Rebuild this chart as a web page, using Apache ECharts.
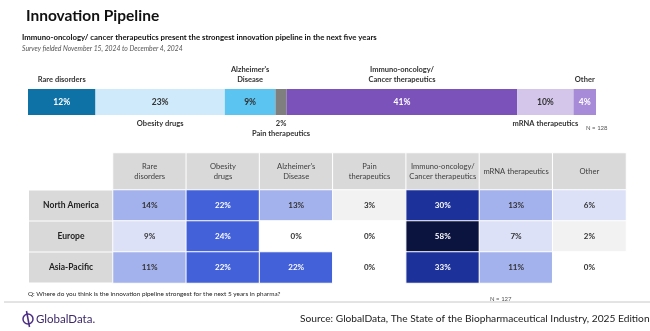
<!DOCTYPE html>
<html><head><meta charset="utf-8">
<script src="https://cdn.jsdelivr.net/npm/echarts@6/dist/echarts.min.js"></script>
<style>html,body{margin:0;padding:0;background:#fff}#c{width:650px;height:331px}</style>
</head><body><div id="c"></div>
<script>
// ---- data ----
var overallCategories = ['Rare disorders', 'Obesity drugs', "Alzheimer's\nDisease", 'Pain therapeutics', 'Immuno-oncology/\nCancer therapeutics', 'mRNA therapeutics', 'Other'];
var overallValues = [12, 23, 9, 2, 41, 10, 4];
var regions = ['North America', 'Europe', 'Asia-Pacific'];
var tableCategories = ['Rare\ndisorders', 'Obesity\ndrugs', "Alzheimer's\nDisease", 'Pain\ntherapeutics', 'Immuno-oncology/\nCancer therapeutics', 'mRNA therapeutics', 'Other'];
var northAmerica = [14, 22, 13, 3, 30, 13, 6];
var europe = [9, 24, 0, 0, 58, 7, 2];
var asiaPacific = [11, 22, 22, 0, 33, 11, 0];

// ---- styles ----
var FONT = 'Lato, "Noto Sans", sans-serif';
var barColors = ['#0e72a6', '#cfeafb', '#5bc4f1', '#7f7f7f', '#7b52b9', '#d4c6ea', '#a78bd8'];
var insideTextColors = ['#ffffff', '#333333', '#333333', null, '#ffffff', '#333333', '#ffffff'];
var namePos = ['top', 'bottom', 'top', 'bottom', 'top', 'bottom', 'top'];

var series = [];
overallValues.forEach(function (v, i) {
  series.push({
    type: 'bar', stack: 'total', xAxisIndex: 0, yAxisIndex: 0, barWidth: 26,
    data: [v], itemStyle: { color: barColors[i] },
    label: {
      show: insideTextColors[i] !== null, position: 'inside', formatter: v + '%',
      color: insideTextColors[i] || '#333', fontFamily: FONT, fontWeight: 'bold', fontSize: 8.5
    },
    silent: true
  });
});
overallValues.forEach(function (v, i) {
  var txt = overallCategories[i];
  if (insideTextColors[i] === null) txt = v + '%\n' + txt;
  series.push({
    type: 'bar', stack: 'names', xAxisIndex: 0, yAxisIndex: 0, barWidth: 26, barGap: '-100%',
    data: [v], itemStyle: { color: 'rgba(0,0,0,0)' },
    label: {
      show: true, position: namePos[i], distance: 4, formatter: txt,
      color: '#333', fontFamily: FONT, fontSize: 7.5, lineHeight: 10, fontWeight: 'bold'
    },
    silent: true
  });
});

// header row of the table (grey cells)
series.push({
  type: 'heatmap', xAxisIndex: 2, yAxisIndex: 2,
  data: tableCategories.map(function (c, i) { return { value: [i, 0, 0], itemStyle: { color: '#d9d9d9' } }; }),
  itemStyle: { borderColor: '#ffffff', borderWidth: 1 },
  label: { show: true, formatter: function (p) { return tableCategories[p.value[0]]; }, fontFamily: FONT, fontSize: 7.6, lineHeight: 10, color: '#404040' },
  silent: true
});

var rowsData = [northAmerica, europe, asiaPacific];
var heat = [];
rowsData.forEach(function (row, r) {
  row.forEach(function (v, c) {
    heat.push({ value: [c, r, v], label: { color: v >= 20 ? '#ffffff' : '#333333' } });
  });
});
series.push({
  type: 'heatmap', xAxisIndex: 1, yAxisIndex: 1, data: heat,
  itemStyle: { borderColor: '#ffffff', borderWidth: 1 },
  label: { show: true, formatter: function (p) { return p.value[2] + '%'; }, fontFamily: FONT, fontWeight: 'bold', fontSize: 8 },
  silent: true
});

var chart = echarts.init(document.getElementById('c'), null, { renderer: 'canvas' });
chart.setOption({
  animation: false,
  textStyle: { fontFamily: FONT },
  grid: [
    { left: 28, top: 89, width: 568, height: 26 },
    { left: 113, top: 190, width: 513, height: 93 },
    { left: 113, top: 153, width: 513, height: 37 }
  ],
  xAxis: [
    { gridIndex: 0, type: 'value', min: 0, max: 101, show: false },
    { gridIndex: 1, type: 'category', data: tableCategories, show: false },
    { gridIndex: 2, type: 'category', data: tableCategories, show: false }
  ],
  yAxis: [
    { gridIndex: 0, type: 'category', data: ['All'], show: false },
    {
      gridIndex: 1, type: 'category', data: regions, inverse: true,
      axisLine: { show: false }, axisTick: { show: false },
      axisLabel: {
        margin: 0,
        formatter: function (t) { return '{h|' + t + '}'; },
        rich: { h: { width: 84, height: 30, lineHeight: 30, align: 'center', backgroundColor: '#d9d9d9', fontWeight: 'bold', fontSize: 8.5, color: '#222', fontFamily: FONT } }
      }
    },
    { gridIndex: 2, type: 'category', data: ['header'], show: false }
  ],
  visualMap: {
    type: 'piecewise', show: false, seriesIndex: series.length - 1, dimension: 2,
    pieces: [
      { min: 0, max: 0, color: '#ffffff' },
      { min: 1, max: 3, color: '#f2f2f2' },
      { min: 4, max: 9, color: '#dce1f8' },
      { min: 10, max: 19, color: '#a3b1ec' },
      { min: 20, max: 29, color: '#4361d8' },
      { min: 30, max: 49, color: '#1c3199' },
      { min: 50, max: 100, color: '#0b133f' }
    ]
  },
  graphic: [
    { type: 'text', left: 26, top: 8, style: { text: 'Innovation Pipeline', font: 'bold 15.5px ' + FONT, fill: '#111' } },
    { type: 'text', left: 22, top: 33, style: { text: 'Immuno-oncology/ cancer therapeutics present the strongest innovation pipeline in the next five years', font: 'bold 7.8px ' + FONT, fill: '#111' } },
    { type: 'text', left: 22, top: 45, style: { text: 'Survey fielded November 15, 2024 to December 4, 2024', font: 'italic 6.8px ' + FONT, fill: '#555' } },
    { type: 'text', left: 586, top: 125, style: { text: 'N = 128', font: '6px ' + FONT, fill: '#555' } },
    { type: 'text', left: 28, top: 291, style: { text: 'Q: Where do you think is the innovation pipeline strongest for the next 5 years in pharma?', font: '6.4px ' + FONT, fill: '#222' } },
    { type: 'text', left: 490, top: 296, style: { text: 'N = 127', font: '6px ' + FONT, fill: '#555' } },
    { type: 'line', shape: { x1: 4, y1: 302, x2: 650, y2: 302 }, style: { stroke: '#c8c8c8', lineWidth: 1 } },
    { type: 'circle', shape: { cx: 28, cy: 319, r: 5 }, style: { fill: 'none', stroke: '#4b2e83', lineWidth: 1.5 } },
    { type: 'line', shape: { x1: 26.5, y1: 311, x2: 29.5, y2: 327 }, style: { stroke: '#4b2e83', lineWidth: 1.5 } },
    { type: 'text', left: 36, top: 313, style: { text: 'GlobalData.', font: '11.5px ' + FONT, fill: '#3d2a6b' } },
    { type: 'text', left: 300, top: 314, style: { text: 'Source: GlobalData, The State of the Biopharmaceutical Industry, 2025 Edition', font: '10.2px ' + FONT, fill: '#222' } }
  ],
  series: series
});
</script>
</body></html>
